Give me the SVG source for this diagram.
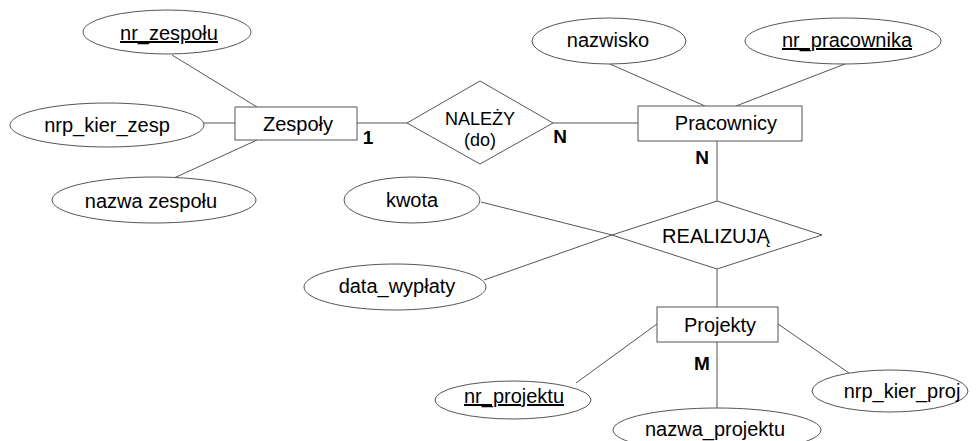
<svg xmlns="http://www.w3.org/2000/svg" width="977" height="441" viewBox="0 0 977 441">
<style>
.sh{fill:#fff;stroke:#555;stroke-width:1}
.ln{stroke:#555;stroke-width:1;fill:none}
text{font-family:"Liberation Sans",Arial,sans-serif;font-size:20px;fill:#000;text-anchor:middle}
.sm{font-size:18px}
.card{font-size:19px;font-weight:bold}
.key{text-decoration:underline}
</style>
<rect width="977" height="441" fill="#fff"/>
<g id="connectors" class="ln">
<line x1="172" y1="55" x2="257" y2="107"/>
<line x1="203" y1="123" x2="235" y2="123"/>
<line x1="174" y1="178" x2="257" y2="140"/>
<line x1="357" y1="123" x2="407" y2="123"/>
<line x1="553" y1="123" x2="638" y2="123"/>
<line x1="610" y1="64" x2="705" y2="106"/>
<line x1="845" y1="64" x2="736" y2="106"/>
<line x1="717" y1="141" x2="717" y2="201"/>
<line x1="481" y1="202" x2="612" y2="235"/>
<line x1="484" y1="280" x2="612" y2="235"/>
<line x1="717" y1="269" x2="717" y2="307"/>
<line x1="717" y1="342" x2="717" y2="408"/>
<line x1="657" y1="324" x2="576" y2="383"/>
<line x1="778" y1="324" x2="849" y2="373"/>
</g>
<g id="nr_zespolu"><ellipse class="sh" cx="167" cy="32" rx="84" ry="22"/><text class="key" x="169" y="40">nr_zespołu</text></g>
<g id="nrp_kier_zesp"><ellipse class="sh" cx="107" cy="125" rx="97" ry="22"/><text x="107" y="132">nrp_kier_zesp</text></g>
<g id="nazwa_zespolu"><ellipse class="sh" cx="154" cy="200" rx="102" ry="23"/><text x="151" y="208">nazwa zespołu</text></g>
<g id="zespoly"><rect class="sh" x="235" y="107" width="122" height="33"/><text x="298" y="131">Zespoły</text></g>
<g id="nalezy"><polygon class="sh" points="407,123 480,81 553,123 480,164"/><text class="sm" x="480" y="125">NALEŻY</text><text class="sm" x="480" y="146">(do)</text></g>
<g id="pracownicy"><rect class="sh" x="638" y="106" width="164" height="35"/><text x="726" y="130">Pracownicy</text></g>
<g id="nazwisko"><ellipse class="sh" cx="609" cy="41" rx="77" ry="23"/><text x="608" y="47">nazwisko</text></g>
<g id="nr_pracownika"><ellipse class="sh" cx="843" cy="41" rx="98" ry="23"/><text class="key" x="847" y="47">nr_pracownika</text></g>
<g id="kwota"><ellipse class="sh" cx="412" cy="200" rx="68" ry="23"/><text x="412" y="207">kwota</text></g>
<g id="data_wyplaty"><ellipse class="sh" cx="395" cy="287" rx="91" ry="23"/><text x="397" y="293">data_wypłaty</text></g>
<g id="realizuja"><polygon class="sh" points="612,235 717,201 822,235 717,269"/><text x="716" y="243">REALIZUJĄ</text></g>
<g id="projekty"><rect class="sh" x="657" y="307" width="121" height="35"/><text x="720" y="332">Projekty</text></g>
<g id="nr_projektu"><ellipse class="sh" cx="513" cy="400" rx="78" ry="19"/><text class="key" x="514" y="403">nr_projektu</text></g>
<g id="nrp_kier_proj"><ellipse class="sh" cx="890" cy="391" rx="78" ry="21"/><text x="902" y="398">nrp_kier_proj</text></g>
<g id="nazwa_projektu"><ellipse class="sh" cx="717" cy="430" rx="104" ry="22"/><text x="715" y="436">nazwa_projektu</text></g>
<g id="cardinalities">
<text class="card" x="368" y="144">1</text>
<text class="card" x="560" y="143">N</text>
<text class="card" x="702" y="164">N</text>
<text class="card" x="702" y="370">M</text>
</g>
</svg>
